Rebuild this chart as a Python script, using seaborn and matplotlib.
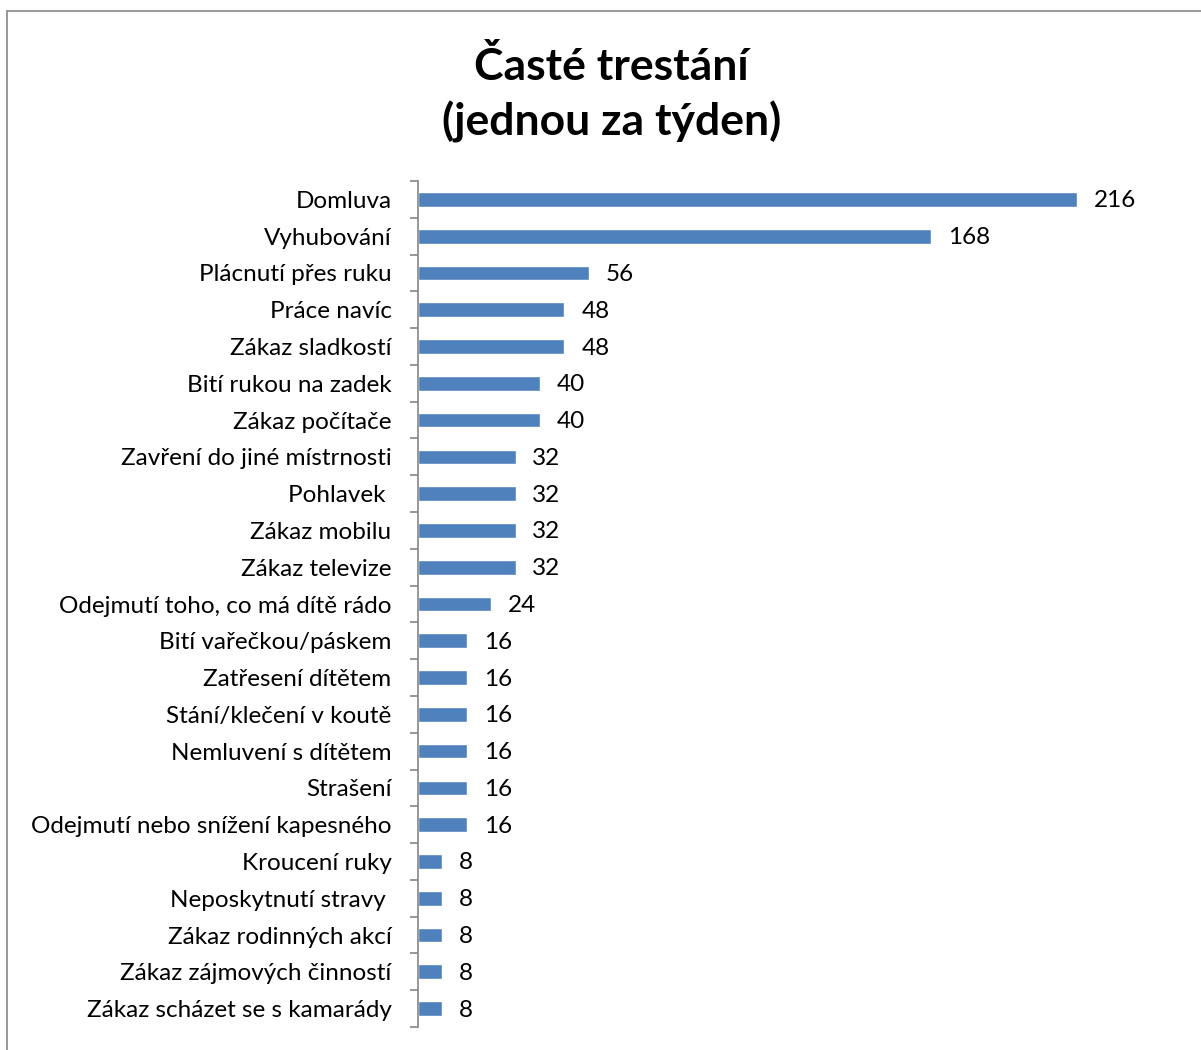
import matplotlib
matplotlib.use("Agg")
import matplotlib.pyplot as plt
import seaborn as sns
import pandas as pd
import numpy as np

categories = [
    "Domluva", "Vyhubování", "Plácnutí přes ruku", "Práce navíc", "Zákaz sladkostí",
    "Bití rukou na zadek", "Zákaz počítače", "Zavření do jiné místrnosti", "Pohlavek ",
    "Zákaz mobilu", "Zákaz televize", "Odejmutí toho, co má dítě rádo",
    "Bití vařečkou/páskem", "Zatřesení dítětem", "Stání/klečení v koutě",
    "Nemluvení s dítětem", "Strašení", "Odejmutí nebo snížení kapesného",
    "Kroucení ruky", "Neposkytnutí stravy ", "Zákaz rodinných akcí",
    "Zákaz zájmových činností", "Zákaz scházet se s kamarády",
]
values = [216, 168, 56, 48, 48, 40, 40, 32, 32, 32, 32, 24, 16, 16, 16, 16, 16, 16, 8, 8, 8, 8, 8]
title = "Časté trestání\n(jednou za týden)"

sns.set_theme(style="white")
plt.rcParams['font.family'] = ['Lato', 'DejaVu Sans']
plt.rcParams['text.color'] = 'black'

df = pd.DataFrame({"cat": categories, "val": values})

fig = plt.figure(figsize=(12.01, 10.5), dpi=100)
ax = fig.add_axes([0.348, 0.0219, 0.61, 0.8057])
sns.barplot(data=df, y="cat", x="val", orient="h", color="#4F81BD", saturation=1,
            width=0.4, ax=ax)

ax.set_xlim(0, 240)
n = len(categories)
ax.set_ylim(n - 0.5, -0.5)
ax.set_xlabel("")
ax.set_ylabel("")
ax.set_xticks([])
for s in ["top", "right", "bottom"]:
    ax.spines[s].set_visible(False)
ax.spines["left"].set_color("#868686")
ax.spines["left"].set_linewidth(1.2)
ax.set_yticks(np.arange(n))
ax.set_yticklabels(categories, fontsize=17.5, color="black")
ax.tick_params(axis="y", which="major", left=True, length=0, pad=19)
ax.set_yticks(np.arange(-0.5, n, 1), minor=True)
ax.tick_params(axis="y", which="minor", left=True, length=6, color="#868686",
               width=1.2, direction="out")

for i, v in enumerate(values):
    ax.text(v + 5.5, i + 0.04, str(v), va="center", ha="left", fontsize=17.5, color="black")

fig.text(0.509, 0.910, title, ha="center", va="center", fontsize=32,
         fontweight="bold", linespacing=1.42, color="black")

# outer chart frame (cropped at right and bottom)
fig.add_artist(plt.Line2D([0.006, 0.006], [0, 0.99], transform=fig.transFigure,
                          color="#868686", lw=1.2))
fig.add_artist(plt.Line2D([0.006, 1.0], [0.99, 0.99], transform=fig.transFigure,
                          color="#868686", lw=1.2))

fig.savefig("out.png", dpi=100)
